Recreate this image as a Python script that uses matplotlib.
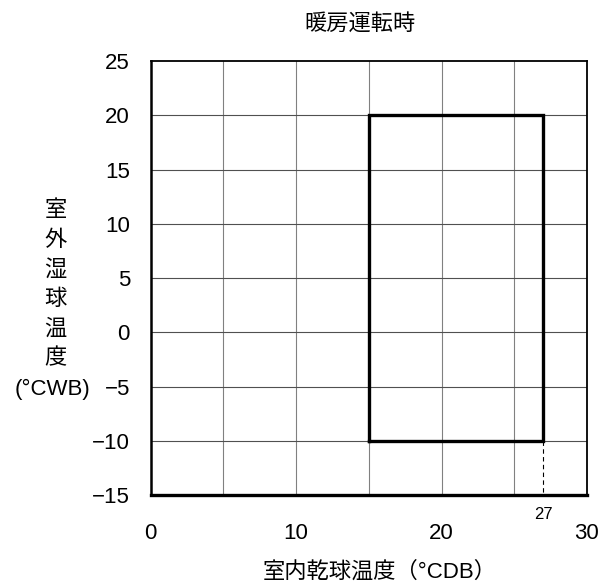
import matplotlib.pyplot as plt

# Operating range (heating)
indoor_db = [15, 27, 27, 15, 15]     # x corners
outdoor_wb = [-10, -10, 20, 20, -10]  # y corners
marker_x = 27
x_ticks = [0, 10, 20, 30]
y_ticks = [-15, -10, -5, 0, 5, 10, 15, 20, 25]
grid_x = [5, 10, 15, 20, 25]
grid_y = [-10, -5, 0, 5, 10, 15, 20]

plt.rcParams['font.family'] = ['Liberation Sans', 'Noto Sans CJK JP']
JP = ['Noto Sans CJK JP', 'Liberation Sans']
MIX = ['Liberation Sans', 'Noto Sans CJK JP']

fig = plt.figure(figsize=(6.08, 5.84), dpi=100)
ax = fig.add_axes([0.248, 0.1524, 0.7174, 0.743])
ax.set_xlim(0, 30)
ax.set_ylim(-15, 25)

for gx in grid_x:
    ax.axvline(gx, color="#808080", linewidth=0.8, zorder=1)
for gy in grid_y:
    ax.axhline(gy, color="#505050", linewidth=0.8, zorder=1)

ax.plot(indoor_db, outdoor_wb, color="black", linewidth=2.4,
        solid_joinstyle="miter", zorder=3)
ax.plot([marker_x, marker_x], [min(outdoor_wb), -15], color="black",
        linewidth=0.8, linestyle=(0, (4, 3)), zorder=2)

ax.spines["left"].set_linewidth(1.8)
ax.spines["bottom"].set_linewidth(2.4)
ax.spines["top"].set_linewidth(1.3)
ax.spines["right"].set_linewidth(1.3)

ax.set_xticks(x_ticks)
ax.set_xticklabels([str(v) for v in x_ticks], fontsize=16)
ax.set_yticks(y_ticks)
ax.set_yticklabels([str(v).replace("-", "\u2212") for v in y_ticks], fontsize=16)
ax.tick_params(axis="both", length=0)
ax.tick_params(axis="x", pad=20)
ax.tick_params(axis="y", pad=15)

ax.text(marker_x, -16.8, str(marker_x), fontsize=12, ha="center", va="center")

fig.text(0.592, 0.960, "暖房運転時", family=JP, fontsize=16, ha="center", va="center")
fig.text(0.625, 0.020, "室内乾球温度（°CDB）", family=MIX, fontsize=16,
         ha="center", va="center")

ylab = "室外湿球温度"
for i, ch in enumerate(ylab):
    fig.text(0.091, 1 - (210 + i * 29.6) / 584, ch, family=JP, fontsize=16,
             ha="center", va="center")
fig.text(0.086, 1 - 389 / 584, "(°CWB)", family=MIX, fontsize=16,
         ha="center", va="center")

fig.savefig("out.png", dpi=100, facecolor="white")
